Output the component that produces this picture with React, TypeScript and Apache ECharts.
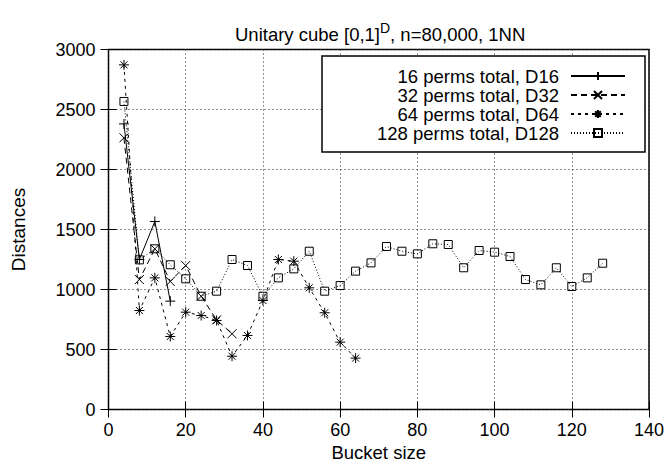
import React, { useEffect, useRef } from "react";
import * as echarts from "echarts";

const FONT = "Liberation Sans, Arial, Helvetica, sans-serif";

const bucketSizes = [4, 8, 12, 16, 20, 24, 28, 32, 36, 40, 44, 48, 52, 56, 60, 64, 68, 72, 76, 80, 84, 88, 92, 96, 100, 104, 108, 112, 116, 120, 124, 128];
const d16 = [2380, 1250, 1567, 903];
const d32 = [2264, 1083, 1339, 1067, 1200, 944, 747, 631];
const d64 = [2872, 825, 1097, 608, 811, 783, 742, 444, 617, 908, 1250, 1236, 1014, 806, 561, 428];
const d128 = [2567, 1247, 1339, 1206, 1089, 944, 986, 1250, 1200, 944, 1097, 1172, 1319, 986, 1033, 1153, 1222, 1358, 1319, 1297, 1381, 1375, 1181, 1325, 1311, 1275, 1083, 1039, 1181, 1025, 1097, 1219];
const seriesNames = ["16 perms total, D16", "32 perms total, D32", "64 perms total, D64", "128 perms total, D128"];
const yTicks = [0, 500, 1000, 1500, 2000, 2500, 3000];
const xTicks = [0, 20, 40, 60, 80, 100, 120, 140];

const PLUS = "path://M0,-1L0,1M-1,0L1,0";
const CROSS = "path://M-1,-1L1,1M-1,1L1,-1";
const STAR = "path://M0,-1L0,1M-1,0L1,0M-0.7,-0.7L0.7,0.7M-0.7,0.7L0.7,-0.7";

export default function App() {
  const ref = useRef<HTMLDivElement>(null);
  useEffect(() => {
    if (!ref.current) return;
    const chart = echarts.init(ref.current, undefined, { renderer: "svg" });
    const values = [d16, d32, d64, d128];
    const symbols = [PLUS, CROSS, STAR, "rect"];
    const sizes = [10, 9, 10, 8];
    const dashes: any[] = ["solid", [6, 4], [3, 4], [1, 2]];
    const series = values.map((vals, i) => ({
      name: seriesNames[i],
      type: "line",
      data: vals.map((v, j) => [bucketSizes[j], v]),
      symbol: symbols[i],
      symbolSize: sizes[i],
      lineStyle: { color: "#000", width: 1, type: dashes[i] },
      itemStyle: { color: "transparent", borderColor: "#000", borderWidth: 1 },
      z: 2 + i * 0.1,
    }));
    const rowTops = [66.5, 85.5, 104.5, 123.5];
    const legends = seriesNames.map((n, i) => ({
      data: [n],
      right: 43,
      top: rowTops[i],
      align: "right",
      orient: "horizontal",
      itemWidth: 54,
      itemHeight: 10,
      padding: 0,
      selectedMode: false,
      textStyle: { fontSize: 18.5, color: "#000", fontFamily: FONT, lineHeight: 19, padding: [0, 7, 0, 0] },
    }));
    const axisCommon = {
      type: "value",
      axisLine: { show: false },
      axisTick: { inside: true, length: 8, lineStyle: { color: "#000", width: 1 } },
    };
    const plain = (v: number) => String(v);
    const gridLine = { show: true, lineStyle: { color: "#222", width: 1, type: [1, 3] } };
    chart.setOption({
      animation: false,
      backgroundColor: "#fff",
      title: {
        left: 235,
        top: 21,
        padding: 0,
        text: "{a|Unitary cube [0,1]}{s|D}{a|, n=80,000, 1NN}",
        textStyle: {
          fontWeight: "normal",
          rich: {
            a: { fontSize: 18.5, fontFamily: FONT, fontWeight: "normal", color: "#000", lineHeight: 26 },
            s: { fontSize: 14, fontFamily: FONT, fontWeight: "normal", color: "#000", lineHeight: 14, verticalAlign: "top" },
          },
        },
      },
      grid: { left: 108.5, right: 20, top: 49.5, bottom: 58.5, show: true, borderColor: "#000", borderWidth: 1.5 },
      xAxis: [
        {
          ...axisCommon,
          min: xTicks[0],
          max: xTicks[xTicks.length - 1],
          interval: xTicks[1] - xTicks[0],
          position: "bottom",
          name: "Bucket size",
          nameLocation: "middle",
          nameGap: 33,
          nameTextStyle: { fontSize: 18.5, color: "#000", fontFamily: FONT },
          axisLabel: { margin: 11, fontSize: 18, color: "#000", fontFamily: FONT, formatter: plain },
          splitLine: gridLine,
        },
        {
          ...axisCommon,
          min: xTicks[0],
          max: xTicks[xTicks.length - 1],
          interval: xTicks[1] - xTicks[0],
          position: "top",
          axisLabel: { show: false },
          splitLine: { show: false },
        },
      ],
      yAxis: [
        {
          ...axisCommon,
          min: yTicks[0],
          max: yTicks[yTicks.length - 1],
          interval: yTicks[1] - yTicks[0],
          position: "left",
          name: "Distances",
          nameLocation: "middle",
          nameRotate: 90,
          nameGap: 81,
          nameTextStyle: { fontSize: 19, color: "#000", fontFamily: FONT },
          axisLabel: { margin: 13, fontSize: 18, color: "#000", fontFamily: FONT, formatter: plain },
          splitLine: gridLine,
        },
        {
          ...axisCommon,
          min: yTicks[0],
          max: yTicks[yTicks.length - 1],
          interval: yTicks[1] - yTicks[0],
          position: "right",
          axisLabel: { show: false },
          splitLine: { show: false },
        },
      ],
      legend: legends,
      graphic: [
        {
          type: "rect",
          z: 3,
          shape: { x: 322, y: 56, width: 323, height: 96 },
          style: { fill: "#fff", stroke: "#000", lineWidth: 1.5 },
        },
      ],
      series,
    });
    return () => chart.dispose();
  }, []);
  return <div ref={ref} style={{ width: 669, height: 468, position: "absolute", left: 0, top: 0 }} />;
}
